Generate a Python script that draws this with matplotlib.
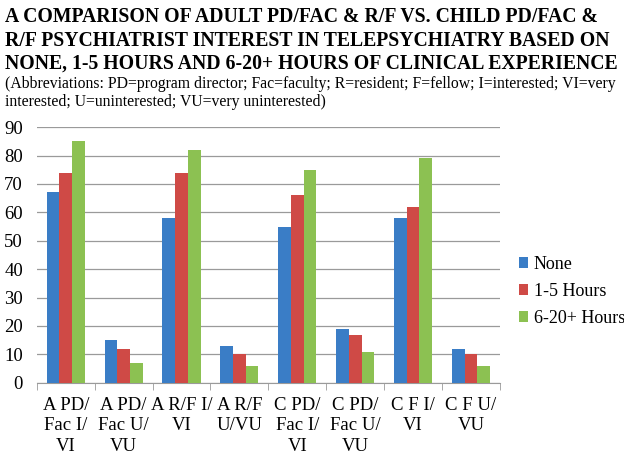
import numpy as np
import matplotlib.pyplot as plt
from matplotlib.patches import Patch

categories = ["A PD/\nFac I/\nVI", "A PD/\nFac U/\nVU", "A R/F I/\nVI", "A R/F\nU/VU",
              "C PD/\nFac I/\nVI", "C PD/\nFac U/\nVU", "C F I/\nVI", "C F U/\nVU"]
series_names = ["None", "1-5 Hours", "6-20+ Hours"]
none_vals = [67, 15, 58, 13, 55, 19, 58, 12]
hours_1_5 = [74, 12, 74, 10, 66, 17, 62, 10]
hours_6_20 = [85, 7, 82, 6, 75, 11, 79, 6]
colors = ["#3A7DC6", "#CF4A46", "#8CC152"]

plt.rcParams['font.family'] = ['Liberation Serif', 'DejaVu Serif']

fig = plt.figure(figsize=(6.24, 4.59), dpi=100)
ax = fig.add_axes([0.059, 0.166, 0.742, 0.557])

x = np.arange(len(categories))
w = 0.22
for i, (vals, c) in enumerate(zip([none_vals, hours_1_5, hours_6_20], colors)):
    ax.bar(x + (i - 1) * w, vals, w, color=c, zorder=3)

ax.set_xlim(-0.5, len(categories) - 0.5)
ax.set_ylim(0, 90)
ax.set_yticks(range(0, 91, 10))
ax.yaxis.grid(True, color='#9a9a9a', linewidth=0.9, zorder=0)
ax.tick_params(axis='y', length=0, labelsize=13.5, pad=10)
ax.set_xticks(x)
ax.set_xticklabels(categories, fontsize=13.5, linespacing=1.28)
ax.set_xticks(np.arange(-0.5, len(categories)), minor=True)
ax.tick_params(axis='x', which='major', length=0, pad=10)
ax.tick_params(axis='x', which='minor', length=5, color='#9a9a9a')
for s in ['top', 'right', 'left']:
    ax.spines[s].set_visible(False)
ax.spines['bottom'].set_color('#9a9a9a')

handles = [Patch(facecolor=c, label=n) for c, n in zip(colors, series_names)]
fig.legend(handles=handles, loc='center left', bbox_to_anchor=(0.832, 0.365),
           frameon=False, fontsize=13, handlelength=0.5, handleheight=0.5,
           handletextpad=0.3, labelspacing=0.55, borderpad=0, borderaxespad=0)

fig.text(0.008, 0.984, "A COMPARISON OF ADULT PD/FAC & R/F VS. CHILD PD/FAC &\n"
         "R/F PSYCHIATRIST INTEREST IN TELEPSYCHIATRY BASED ON\n"
         "NONE, 1-5 HOURS AND 6-20+ HOURS OF CLINICAL EXPERIENCE",
         fontsize=14.2, fontweight='bold', va='top', ha='left', linespacing=1.22)
fig.text(0.008, 0.835, "(Abbreviations: PD=program director; Fac=faculty; R=resident; F=fellow; I=interested; VI=very\n"
         "interested; U=uninterested; VU=very uninterested)",
         fontsize=11.3, va='top', ha='left', linespacing=1.15)

fig.savefig("out.png", dpi=100)
